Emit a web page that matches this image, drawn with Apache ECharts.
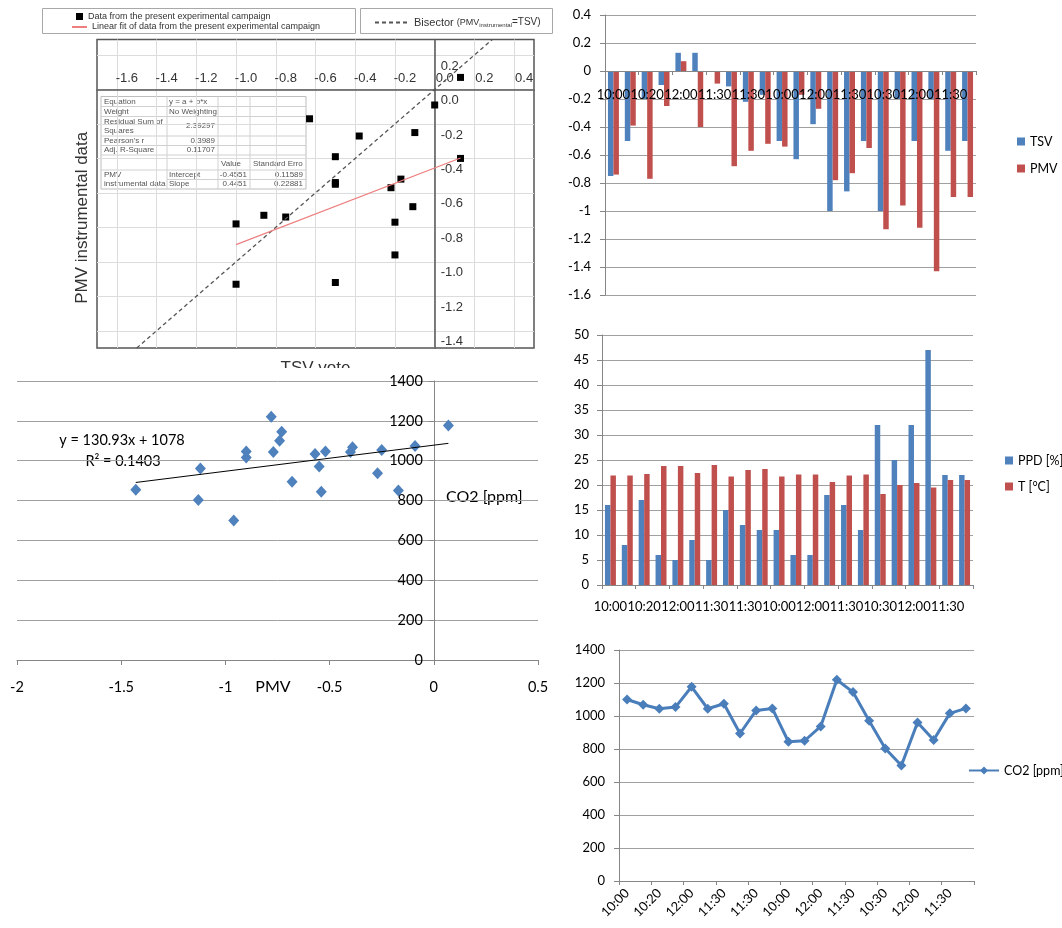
<!DOCTYPE html>
<html><head><meta charset="utf-8">
<script src="https://cdn.jsdelivr.net/npm/echarts@6/dist/echarts.min.js"></script>
<style>
html,body{margin:0;padding:0;background:#fff;}
.p{position:absolute;overflow:hidden;}
</style></head><body>
<div id="a" class="p" style="left:0;top:0;width:560px;height:368px"></div>
<div id="b" class="p" style="left:0;top:368px;width:560px;height:560px"></div>
<div id="c" class="p" style="left:560px;top:0;width:502px;height:320px"></div>
<div id="d" class="p" style="left:560px;top:320px;width:502px;height:310px"></div>
<div id="e" class="p" style="left:560px;top:630px;width:502px;height:298px"></div>
<script>
// ---------------- data ----------------
const categories = ['10:00','10:10','10:20','10:30','12:00','12:10','11:30','11:40','11:30','11:40','10:00','10:10',
                    '12:00','12:10','11:30','11:40','10:30','10:40','12:00','12:10','11:30','11:40'];
const TSV  = [-0.75,-0.5,-0.2,-0.1,0.13,0.13,0,-0.11,-0.22,-0.17,-0.5,-0.63,-0.38,-1,-0.86,-0.5,-1,-0.2,-0.5,-0.2,-0.57,-0.5];
const PMV  = [-0.74,-0.39,-0.77,-0.25,0.07,-0.4,-0.09,-0.68,-0.57,-0.52,-0.54,-0.17,-0.27,-0.78,-0.73,-0.55,-1.13,-0.96,-1.12,-1.43,-0.9,-0.9];
const PPD  = [16,8,17,6,5,9,5,15,12,11,11,6,6,18,16,11,32,25,32,47,22,22];
const Tair = [21.9,21.9,22.2,23.8,23.8,22.4,24.0,21.7,23.0,23.2,21.7,22.1,22.1,20.6,21.9,22.1,18.2,20.0,20.4,19.5,21.0,21.0];
const CO2  = [1100,1068,1044,1054,1177,1044,1074,894,1034,1046,844,850,937,1220,1145,971,803,700,961,854,1016,1046];

const campaignCount = 19;               // points in the Origin TSV/PMV scatter
const fitIntercept = -0.4551, fitSlope = 0.4451;
const statRows = [['Equation','y = a + b*x'],['Weight','No Weighting'],['Residual Sum of\nSquares','2.39297'],["Pearson's r",'0.3989'],['Adj. R-Square','0.11707']];
const coefHead = ['Value','Standard Erro'];
const coefLabel = ['PMV','instrumental data'];
const coefRows = [['Intercept','-0.4551','0.11589'],['Slope','0.4451','0.22881']];
const trendSlope = 130.93, trendIntercept = 1078, trendR2 = 0.1403;

// ---------------- styles ----------------
const EX = 'Lato, "Open Sans", sans-serif';
const OR = '"Liberation Sans", Arial, sans-serif';
const BLUE = '#4F81BD', RED = '#C0504D', LINEBLUE = '#4A7EBB';
const GRID_GRAY = '#a0a0a0', AXIS_GRAY = '#868686';
const fmt = v => String(+(+v).toFixed(4));

function mk(id){ return echarts.init(document.getElementById(id), null, {renderer:'canvas', devicePixelRatio:1}); }
// offset that moves an axis from the grid edge onto the zero of the other axis
function zeroOffset(len, min, max){ return -(len * (0 - min) / (max - min)); }
function zeroOffsetFromMax(len, min, max){ return -(len * (max - 0) / (max - min)); }

// ---------------- A: Origin TSV vs PMV ----------------
(function(){
  const xR = [-1.7, 0.5], yR = [-1.5, 0.29];
  const G = {left:97, top:39.5, width:437, height:308.5};
  const evenTenth = v => { const k = Math.round(v*10); return (k % 2 === 0) ? (k/10).toFixed(1) : ''; };
  const tsvC = TSV.slice(0, campaignCount), pmvC = PMV.slice(0, campaignCount);
  const x0 = Math.min(...tsvC), x1 = Math.max(...tsvC);
  const NAME_D = 'Data from the present experimental campaign';
  const NAME_F = 'Linear fit of data from the present experimental campaign';
  const NAME_B = 'Bisector (PMV instrumental=TSV)';

  // stats table (decoration)
  const colX = [101,167,218,250,306];
  const rowY = [96.5,106.5,116.5,136,145.5,155,170,179.5,189];
  const tf = {fontFamily: OR, fontSize: 8, fill: '#555'};
  const kids = [];
  kids.push({type:'rect', shape:{x:colX[0], y:rowY[0], width:colX[4]-colX[0], height:rowY[8]-rowY[0]}, style:{fill:'#fff', stroke:'#bdbdbd', lineWidth:1}});
  for (let i=1;i<=3;i++) kids.push({type:'line', shape:{x1:colX[i], y1:rowY[0], x2:colX[i], y2:rowY[8]}, style:{stroke:'#d0d0d0', lineWidth:1}});
  for (let j=1;j<=7;j++) kids.push({type:'line', shape:{x1: j===7?colX[1]:colX[0], y1:rowY[j], x2:colX[4], y2:rowY[j]}, style:{stroke:'#d0d0d0', lineWidth:1}});
  const mid = j => (rowY[j]+rowY[j+1])/2;
  statRows.forEach((r,j) => {
    kids.push({type:'text', x:colX[0]+3, y:mid(j), style:Object.assign({text:r[0], align:'left', verticalAlign:'middle', lineHeight:9.5}, tf)});
    const num = !isNaN(parseFloat(r[1]));
    kids.push({type:'text', x: num ? colX[2]-3 : colX[1]+2, y:mid(j), style:Object.assign({text:r[1], align: num?'right':'left', verticalAlign:'middle'}, tf)});
  });
  kids.push({type:'text', x:colX[2]+3, y:mid(5)+1.5, style:Object.assign({text:coefHead[0], align:'left', verticalAlign:'middle'}, tf)});
  kids.push({type:'text', x:colX[3]+3, y:mid(5)+1.5, style:Object.assign({text:coefHead[1], align:'left', verticalAlign:'middle'}, tf)});
  coefRows.forEach((r,k) => {
    const j = 6+k;
    kids.push({type:'text', x:colX[0]+3, y:mid(j), style:Object.assign({text:coefLabel[k], align:'left', verticalAlign:'middle'}, tf)});
    kids.push({type:'text', x:colX[1]+2, y:mid(j), style:Object.assign({text:r[0], align:'left', verticalAlign:'middle'}, tf)});
    kids.push({type:'text', x:colX[3]-3, y:mid(j), style:Object.assign({text:r[1], align:'right', verticalAlign:'middle'}, tf)});
    kids.push({type:'text', x:colX[4]-3, y:mid(j), style:Object.assign({text:r[2], align:'right', verticalAlign:'middle'}, tf)});
  });

  const legText = {fontFamily: OR, fontSize: 9, color: '#333'};
  mk('a').setOption({
    animation:false,
    grid:Object.assign({show:true, borderColor:'#555', borderWidth:1.5, outerBoundsMode:'none'}, G),
    graphic:[
      {type:'rect', z:3, shape:{x:42.5, y:8.5, width:313, height:25}, style:{fill:'#fff', stroke:'#a8a8a8', lineWidth:1}},
      {type:'rect', z:3, shape:{x:360.5, y:8.5, width:192, height:25}, style:{fill:'#fff', stroke:'#a8a8a8', lineWidth:1}},
      {type:'group', z:5, children:kids}
    ],
    legend:[
      {data:[{name:NAME_D, icon:'rect'}], left:76, top:12, padding:0, itemWidth:7, itemHeight:7, selectedMode:false, textStyle:legText},
      {data:[NAME_F], left:71, top:22.5, padding:0, itemWidth:15, itemHeight:8, selectedMode:false, textStyle:legText, itemStyle:{opacity:0}},
      {data:[NAME_B], left:374, top:17, padding:0, itemWidth:34, itemHeight:8, selectedMode:false, itemStyle:{opacity:0},
       formatter: () => '{a|Bisector }{b|(PMV}{s|instrumental}{c|=TSV)}',
       textStyle:{fontFamily:OR, color:'#333', rich:{a:{fontFamily:OR,fontSize:11,color:'#333'}, b:{fontFamily:OR,fontSize:9,color:'#333'}, s:{fontFamily:OR,fontSize:6,color:'#333',padding:[5,0,0,0]}, c:{fontFamily:OR,fontSize:10,color:'#333'}}}}
    ],
    xAxis:[
      {type:'value', position:'top', min:xR[0], max:xR[1], interval:0.1,
       offset: zeroOffsetFromMax(G.height, yR[0], yR[1]),
       axisLine:{onZero:false, lineStyle:{color:'#555', width:1.5}},
       axisTick:{show:false},
       axisLabel:{formatter:evenTenth, margin:5, padding:[0,0,0,20], fontFamily:OR, fontSize:13, color:'#333'},
       splitLine:{show:true, showMinLine:true, showMaxLine:true, lineStyle:{color:['rgba(0,0,0,0)','#dcdcdc'], width:1}}},
      {type:'value', position:'bottom', min:xR[0], max:xR[1], name:'TSV vote', nameLocation:'middle', nameGap:12, nameMoveOverlap:false,
       nameTextStyle:{fontFamily:OR, fontSize:17, color:'#333'},
       axisLine:{show:false, onZero:false}, axisTick:{show:false}, axisLabel:{show:false}, splitLine:{show:false}}
    ],
    yAxis:[
      {type:'value', position:'left', min:yR[0], max:yR[1], interval:0.1,
       offset: zeroOffset(G.width, xR[0], xR[1]),
       axisLine:{onZero:false, lineStyle:{color:'#555', width:1.5}},
       axisTick:{show:false},
       axisLabel:{inside:true, formatter:evenTenth, margin:6, verticalAlign:'top', lineHeight:22, fontFamily:OR, fontSize:13, color:'#333'},
       splitLine:{show:true, showMinLine:true, showMaxLine:true, lineStyle:{color:['rgba(0,0,0,0)','#dcdcdc'], width:1}}},
      {type:'value', position:'left', min:yR[0], max:yR[1], name:'PMV instrumental data', nameLocation:'middle', nameGap:6, nameMoveOverlap:false,
       nameTextStyle:{fontFamily:OR, fontSize:17, color:'#333', padding:[0,48,0,0]},
       axisLine:{show:false, onZero:false}, axisTick:{show:false}, axisLabel:{show:false}, splitLine:{show:false}}
    ],
    series:[
      {name:NAME_B, type:'line', xAxisIndex:0, yAxisIndex:0, symbol:'none', silent:true,
       data:[[yR[0],yR[0]],[yR[1],yR[1]]], lineStyle:{color:'#555', width:1.3, type:[4,3]}, itemStyle:{color:'#555'}},
      {name:NAME_F, type:'line', xAxisIndex:0, yAxisIndex:0, symbol:'none', silent:true,
       data:[[x0, fitIntercept+fitSlope*x0],[x1, fitIntercept+fitSlope*x1]], lineStyle:{color:'#ee7f7f', width:1.2}, itemStyle:{color:'#ee7f7f'}},
      {name:NAME_D, type:'scatter', xAxisIndex:0, yAxisIndex:0, symbol:'rect', symbolSize:7,
       data: tsvC.map((t,i)=>[t, pmvC[i]]), itemStyle:{color:'#000', opacity:1}}
    ]
  });
})();

// ---------------- B: CO2 vs PMV scatter ----------------
(function(){
  const G = {left:17, top:13, width:521, height:279};
  const xR = [-2, 0.5];
  const x0 = Math.min(...PMV), x1 = Math.max(...PMV);
  const txt = {fontFamily:EX, fill:'#000'};
  mk('b').setOption({
    animation:false,
    grid:Object.assign({outerBoundsMode:'none'}, G),
    graphic:[
      {type:'text', x:122, y:72, style:Object.assign({text:'y = ' + trendSlope + 'x + ' + trendIntercept, fontSize:14.5, align:'center', verticalAlign:'middle'}, txt)},
      {type:'text', x:123, y:93, style:Object.assign({text:'R² = ' + trendR2, fontSize:14.5, align:'center', verticalAlign:'middle'}, txt)},
      {type:'text', x:446, y:129, style:Object.assign({text:'CO2 [ppm]', fontSize:16, align:'left', verticalAlign:'middle'}, txt)}
    ],
    xAxis:{type:'value', min:xR[0], max:xR[1], interval:0.5, name:'PMV', nameLocation:'middle', nameGap:19, nameMoveOverlap:false,
      nameTextStyle:{fontFamily:EX, fontSize:16, color:'#000', padding:[0,9,0,0]},
      axisLine:{onZero:false, lineStyle:{color:AXIS_GRAY}}, axisTick:{show:true, length:5, lineStyle:{color:AXIS_GRAY}},
      axisLabel:{margin:20, formatter:fmt, fontFamily:EX, fontSize:14.5, color:'#000'}, splitLine:{show:false}},
    yAxis:{type:'value', min:0, max:1400, interval:200, offset: zeroOffset(G.width, xR[0], xR[1]),
      axisLine:{show:true, onZero:false, lineStyle:{color:AXIS_GRAY}}, axisTick:{show:true, length:5, lineStyle:{color:AXIS_GRAY}},
      axisLabel:{margin:11, formatter:fmt, fontFamily:EX, fontSize:14.5, color:'#000'}, splitLine:{show:true, lineStyle:{color:GRID_GRAY}}},
    series:[
      {type:'line', symbol:'none', silent:true, data:[[x0, trendSlope*x0+trendIntercept],[x1, trendSlope*x1+trendIntercept]], lineStyle:{color:'#000', width:1}},
      {type:'scatter', symbol:'diamond', symbolSize:[11,12], data:PMV.map((p,i)=>[p, CO2[i]]), itemStyle:{color:BLUE, opacity:1}}
    ]
  });
})();

// ---------------- shared excel axis bits ----------------
function catAxis(extra){
  return Object.assign({type:'category', data:categories, z:10,
    axisLine:{onZero:false, lineStyle:{color:AXIS_GRAY}}, axisTick:{show:true, length:4, lineStyle:{color:AXIS_GRAY}},
    axisLabel:{interval:1, margin:17, fontFamily:EX, fontSize:13, color:'#000'}}, extra||{});
}
function valAxis(min,max,interval,margin){
  return {type:'value', min, max, interval,
    axisLine:{show:true, lineStyle:{color:AXIS_GRAY}}, axisTick:{show:true, length:5, lineStyle:{color:AXIS_GRAY}},
    axisLabel:{margin, formatter:fmt, fontFamily:EX, fontSize:13, color:'#000'}, splitLine:{show:true, lineStyle:{color:GRID_GRAY, width:1}}};
}
const legStyle = {fontFamily:EX, fontSize:12.5, color:'#000'};

// ---------------- C: TSV / PMV bars ----------------
(function(){
  const G = {left:45, top:15, width:371, height:280};
  const yR = [-1.6, 0.4];
  mk('c').setOption({
    animation:false,
    grid:Object.assign({outerBoundsMode:'none'}, G),
    legend:{orient:'vertical', left:457, top:135, padding:0, itemWidth:8, itemHeight:8, itemGap:14, icon:'rect', selectedMode:false, textStyle:legStyle, data:['TSV','PMV']},
    xAxis:catAxis({offset: zeroOffset(G.height, yR[0], yR[1])}),
    yAxis:valAxis(yR[0], yR[1], 0.2, 14),
    series:[
      {name:'TSV', type:'bar', data:TSV, itemStyle:{color:BLUE}, barGap:'0%', barCategoryGap:'35%'},
      {name:'PMV', type:'bar', data:PMV, itemStyle:{color:RED}, barGap:'0%', barCategoryGap:'35%'}
    ]
  });
})();

// ---------------- D: PPD / T bars ----------------
mk('d').setOption({
  animation:false,
  grid:{left:42, top:15, width:371, height:250, outerBoundsMode:'none'},
  legend:{orient:'vertical', left:445, top:134, padding:0, itemWidth:8, itemHeight:8, itemGap:13, icon:'rect', selectedMode:false, textStyle:legStyle, data:['PPD [%]','T [°C]']},
  xAxis:catAxis({axisLabel:{interval:1, margin:15, fontFamily:EX, fontSize:13, color:'#000'}}),
  yAxis:valAxis(0, 50, 5, 13),
  series:[
    {name:'PPD [%]', type:'bar', data:PPD, itemStyle:{color:BLUE}, barGap:'0%', barCategoryGap:'35%'},
    {name:'T [°C]', type:'bar', data:Tair, itemStyle:{color:RED}, barGap:'0%', barCategoryGap:'35%'}
  ]
});

// ---------------- E: CO2 line ----------------
mk('e').setOption({
  animation:false,
  grid:{left:59, top:20, width:355, height:231, outerBoundsMode:'none'},
  legend:{left:408, top:134, padding:0, itemWidth:30, itemHeight:10, selectedMode:false, textStyle:legStyle, data:['CO2 [ppm]']},
  xAxis:catAxis({axisLabel:{interval:1, rotate:45, margin:10, fontFamily:EX, fontSize:13, color:'#000'}}),
  yAxis:valAxis(0, 1400, 200, 14),
  series:[
    {name:'CO2 [ppm]', type:'line', data:CO2, symbol:'diamond', symbolSize:10, lineStyle:{color:LINEBLUE, width:3}, itemStyle:{color:LINEBLUE}}
  ]
});
</script>
</body></html>
